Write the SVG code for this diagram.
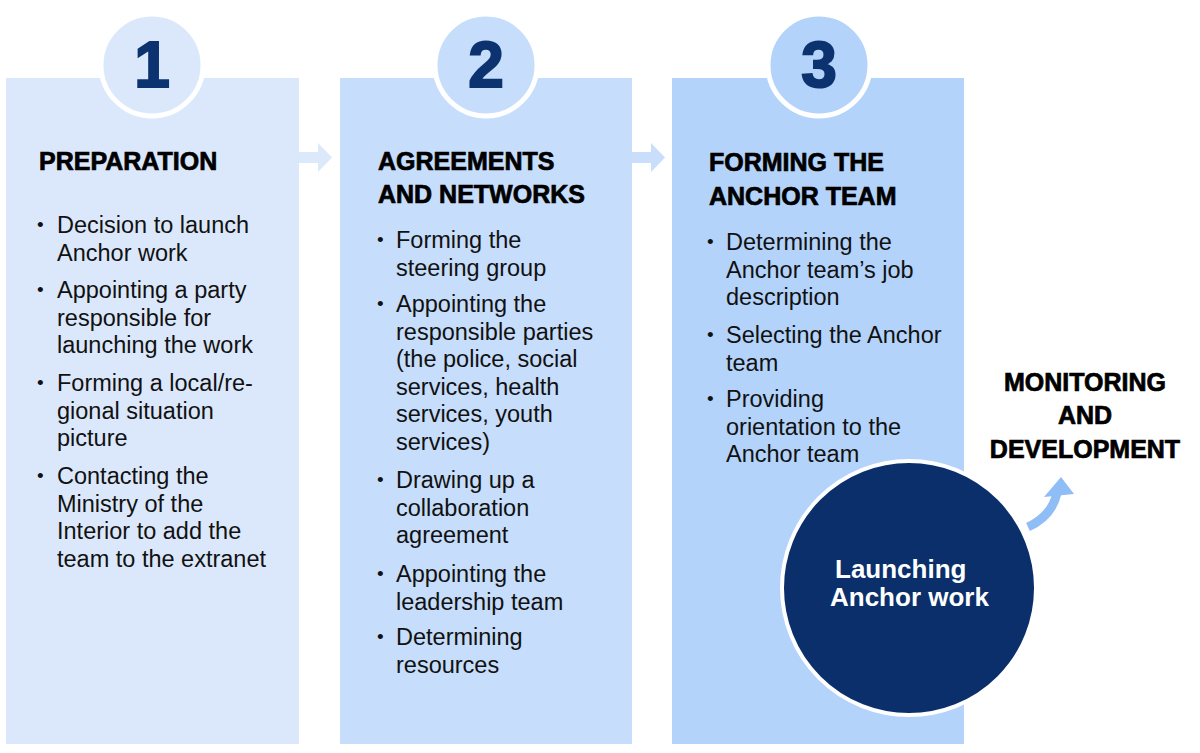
<svg xmlns="http://www.w3.org/2000/svg" width="1200" height="753" viewBox="0 0 1200 753">
<style>
.t{font-family:"Liberation Sans",Arial,sans-serif;font-size:23.5px;fill:#111}
.b{font-family:"Liberation Sans",Arial,sans-serif;font-size:19px;fill:#111}
.h{font-family:"Liberation Sans",Arial,sans-serif;font-size:25px;font-weight:bold;fill:#000;stroke:#000;stroke-width:0.7}
.n{font-family:"Liberation Sans",Arial,sans-serif;font-size:64px;font-weight:bold;fill:#0c3370;stroke:#0c3370;stroke-width:2;text-anchor:middle}
.w{font-family:"Liberation Sans",Arial,sans-serif;font-size:26px;font-weight:bold;fill:#fff}
</style>
<rect width="1200" height="753" fill="#fff"/>
<g id="connectors">
<polygon points="299,152 318,152 318,143 332,157.5 318,172 318,163 299,163" fill="#dce9fb"/>
<polygon points="632,152 651,152 651,143 665,157.5 651,172 651,163 632,163" fill="#c8defb"/>
<path d="M1028,527 Q1052,516 1057,493" fill="none" stroke="#8fbdf5" stroke-width="9"/>
<polygon points="1044,497 1061,477 1074,494" fill="#8fbdf5"/>
</g>
<g id="step1">
<rect x="6" y="78" width="293" height="666" fill="#dbe8fc"/>
<circle cx="152" cy="65" r="51" fill="#dbe8fc" stroke="#fff" stroke-width="5"/>
<text class="n" x="152" y="87">1</text>
<text class="h" x="39" y="170">PREPARATION</text>
<text class="b" x="37" y="231">•</text>
<text class="b" x="37" y="296">•</text>
<text class="b" x="37" y="389">•</text>
<text class="b" x="37" y="482">•</text>
<text class="t" x="57" y="233">Decision to launch</text>
<text class="t" x="57" y="260.5">Anchor work</text>
<text class="t" x="57" y="298">Appointing a party</text>
<text class="t" x="57" y="325.5">responsible for</text>
<text class="t" x="57" y="353">launching the work</text>
<text class="t" x="57" y="391">Forming a local/re-</text>
<text class="t" x="57" y="418.5">gional situation</text>
<text class="t" x="57" y="446">picture</text>
<text class="t" x="57" y="484">Contacting the</text>
<text class="t" x="57" y="511.5">Ministry of the</text>
<text class="t" x="57" y="539">Interior to add the</text>
<text class="t" x="57" y="566.5">team to the extranet</text>
</g>
<g id="step2">
<rect x="340" y="78" width="292" height="666" fill="#c6ddfb"/>
<circle cx="486" cy="65" r="51" fill="#c6ddfb" stroke="#fff" stroke-width="5"/>
<text class="n" x="486" y="87">2</text>
<text class="h" x="378" y="170">AGREEMENTS</text>
<text class="h" x="378" y="203">AND NETWORKS</text>
<text class="b" x="377" y="246">•</text>
<text class="b" x="377" y="310">•</text>
<text class="b" x="377" y="486">•</text>
<text class="b" x="377" y="580">•</text>
<text class="b" x="377" y="643">•</text>
<text class="t" x="396" y="248">Forming the</text>
<text class="t" x="396" y="275.5">steering group</text>
<text class="t" x="396" y="312">Appointing the</text>
<text class="t" x="396" y="339.5">responsible parties</text>
<text class="t" x="396" y="367">(the police, social</text>
<text class="t" x="396" y="394.5">services, health</text>
<text class="t" x="396" y="422">services, youth</text>
<text class="t" x="396" y="449.5">services)</text>
<text class="t" x="396" y="488">Drawing up a</text>
<text class="t" x="396" y="515.5">collaboration</text>
<text class="t" x="396" y="543">agreement</text>
<text class="t" x="396" y="582">Appointing the</text>
<text class="t" x="396" y="609.5">leadership team</text>
<text class="t" x="396" y="645">Determining</text>
<text class="t" x="396" y="672.5">resources</text>
</g>
<g id="step3">
<rect x="672" y="78" width="292" height="666" fill="#b3d3fb"/>
<circle cx="819" cy="65" r="51" fill="#b3d3fb" stroke="#fff" stroke-width="5"/>
<text class="n" x="819" y="87">3</text>
<text class="h" x="709" y="171">FORMING THE</text>
<text class="h" x="709" y="205">ANCHOR TEAM</text>
<text class="b" x="707" y="248">•</text>
<text class="b" x="707" y="341">•</text>
<text class="b" x="707" y="405">•</text>
<text class="t" x="726" y="250">Determining the</text>
<text class="t" x="726" y="277.5">Anchor team’s job</text>
<text class="t" x="726" y="305">description</text>
<text class="t" x="726" y="343">Selecting the Anchor</text>
<text class="t" x="726" y="370.5">team</text>
<text class="t" x="726" y="407">Providing</text>
<text class="t" x="726" y="434.5">orientation to the</text>
<text class="t" x="726" y="462">Anchor team</text>
</g>
<g id="launch">
<circle cx="909" cy="588" r="127" fill="#0b2f6b" stroke="#fff" stroke-width="4"/>
<text class="w" x="835" y="578">Launching</text>
<text class="w" x="830" y="606">Anchor work</text>
</g>
<g id="monitoring">
<text class="h" x="1085" y="391" text-anchor="middle">MONITORING</text>
<text class="h" x="1085" y="424" text-anchor="middle">AND</text>
<text class="h" x="1085" y="458" text-anchor="middle">DEVELOPMENT</text>
</g>
</svg>
